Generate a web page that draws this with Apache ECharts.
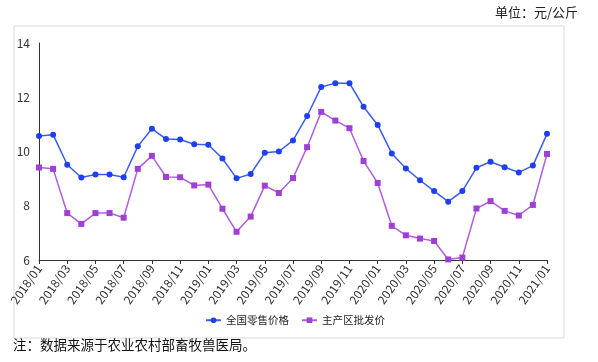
<!DOCTYPE html>
<html>
<head>
<meta charset="utf-8">
<script src="https://cdn.jsdelivr.net/npm/echarts@6/dist/echarts.min.js"></script>
<style>html,body{margin:0;padding:0;background:#fff}#c{width:598px;height:362px}</style>
</head>
<body>
<div id="c"></div>
<script>
const categories = [
 '2018/01','2018/02','2018/03','2018/04','2018/05','2018/06','2018/07','2018/08','2018/09','2018/10','2018/11','2018/12',
 '2019/01','2019/02','2019/03','2019/04','2019/05','2019/06','2019/07','2019/08','2019/09','2019/10','2019/11','2019/12',
 '2020/01','2020/02','2020/03','2020/04','2020/05','2020/06','2020/07','2020/08','2020/09','2020/10','2020/11','2020/12',
 '2021/01'];
const retailName = '全国零售价格';
const wholesaleName = '主产区批发价';
const retail = [10.57,10.62,9.51,9.04,9.15,9.15,9.05,10.19,10.84,10.46,10.44,10.27,
 10.25,9.74,9.01,9.17,9.95,10.00,10.41,11.31,12.38,12.52,12.52,11.65,
 10.98,9.93,9.37,8.94,8.54,8.15,8.54,9.40,9.62,9.42,9.23,9.48,10.65];
const wholesale = [9.41,9.36,7.73,7.33,7.73,7.73,7.56,9.36,9.84,9.06,9.05,8.75,
 8.78,7.89,7.04,7.60,8.74,8.47,9.02,10.16,11.46,11.14,10.86,9.65,
 8.84,7.26,6.91,6.79,6.70,6.02,6.09,7.90,8.17,7.81,7.64,8.03,9.91];
const unitText = '单位：元/公斤';
const noteText = '注：数据来源于农业农村部畜牧兽医局。';

const font = '"Noto Sans CJK SC", "Noto Sans", sans-serif';
const chart = echarts.init(document.getElementById('c'), null, {renderer:'canvas'});
chart.setOption({
  animation: false,
  textStyle: {fontFamily: font},
  grid: {left: 39, right: 51, top: 43, bottom: 102, containLabel: false},
  graphic: [
    {type:'rect', left: 11.5, top: 23.5, shape:{x:0,y:0,width:550,height:312},
     style:{fill:'none', stroke:'#d9d9d9', lineWidth:1}, silent:true, z:-1},
    {type:'text', right: 20, top: 6, style:{text: unitText, font: '13px ' + font, fill:'#222'}},
    {type:'text', left: 13, top: 338, style:{text: noteText, font: '13.5px ' + font, fill:'#111'}}
  ],
  legend: {
    left: 200, top: 310, itemWidth: 15, itemHeight: 7, itemGap: 12,
    textStyle: {fontSize: 10.5, color: '#222', fontFamily: font},
    data: [retailName, wholesaleName]
  },
  xAxis: {
    type: 'category', data: categories, boundaryGap: false,
    axisLine: {lineStyle: {color: '#333', width: 1}},
    axisTick: {interval: 1, length: 4, lineStyle: {color: '#333'}},
    axisLabel: {interval: 1, rotate: 55, fontSize: 12, color: '#333', margin: 6}
  },
  yAxis: {
    type: 'value', min: 6, max: 14, interval: 2,
    axisLine: {show: true, lineStyle: {color: '#333', width: 1}},
    axisTick: {show: false},
    splitLine: {show: false},
    axisLabel: {fontSize: 12, color: '#333', margin: 9}
  },
  series: [
    {name: retailName, type: 'line', data: retail, symbol: 'circle', symbolSize: 6,
     itemStyle: {color: '#1f3ff2'}, lineStyle: {width: 1.5, color: '#3a5cf2'}},
    {name: wholesaleName, type: 'line', data: wholesale, symbol: 'rect', symbolSize: 6,
     itemStyle: {color: '#a03fd6'}, lineStyle: {width: 1.5, color: '#b05ee0'}}
  ]
});
</script>
</body>
</html>
